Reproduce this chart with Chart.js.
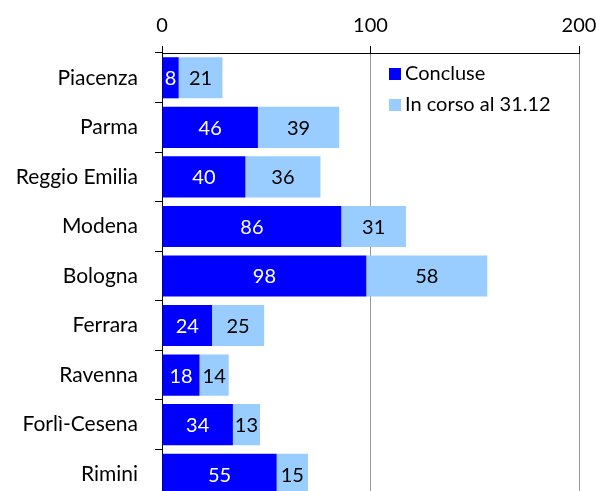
<!DOCTYPE html>
<html>
<head>
<meta charset="utf-8">
<script src="https://cdn.jsdelivr.net/npm/chart.js@4"></script>
<style>
  html, body { margin: 0; padding: 0; background: #fff; overflow: hidden; }
</style>
</head>
<body>
<canvas id="chart" width="596" height="499"></canvas>
<script>
// province
let province = ["Piacenza", "Parma", "Reggio Emilia", "Modena", "Bologna", "Ferrara", "Ravenna", "Forlì-Cesena", "Rimini"];
let concluse = [8, 46, 40, 86, 98, 24, 18, 34, 55];
let inCorso = [21, 39, 36, 31, 58, 25, 14, 13, 15];
let serieNomi = ["Concluse", "In corso al 31.12"];
let serieColori = ["#0000FF", "#99CCFF"];
let coloriEtichette = ["#FFFFFF", "#000000"];

const FONT = "Lato, 'Open Sans', sans-serif";

// valori dentro le barre
let etichettePlugin = {
  id: "etichette",
  afterDatasetsDraw(chart) {
    let ctx = chart.ctx;
    ctx.save();
    ctx.font = "20px " + FONT;
    ctx.textAlign = "center";
    ctx.textBaseline = "middle";
    chart.data.datasets.forEach((ds, i) => {
      chart.getDatasetMeta(i).data.forEach((bar, j) => {
        ctx.fillStyle = coloriEtichette[i];
        let x = (bar.x + bar.base) / 2;
        ctx.fillText(ds.data[j], x, bar.y + 1);
      });
    });
    ctx.restore();
  }
};

// legenda dentro l'area del grafico
let legendaPlugin = {
  id: "legenda",
  afterDraw(chart) {
    let ctx = chart.ctx;
    ctx.save();
    ctx.font = "20px " + FONT;
    ctx.textBaseline = "middle";
    let x0 = 389, y0 = 74;
    chart.data.datasets.forEach((ds, i) => {
      let y = y0 + i * 31;
      ctx.fillStyle = ds.backgroundColor;
      ctx.fillRect(x0, y - 6, 12, 12);
      ctx.fillStyle = "#000";
      ctx.fillText(ds.label, x0 + 16, y);
    });
    ctx.restore();
  }
};

let ctx = document.getElementById("chart").getContext("2d");
let chart = new Chart(ctx, {
  type: "bar",
  data: {
    labels: province,
    datasets: [
      { label: serieNomi[0], data: concluse, backgroundColor: serieColori[0] },
      { label: serieNomi[1], data: inCorso, backgroundColor: serieColori[1] }
    ]
  },
  options: {
    indexAxis: "y",
    responsive: false,
    animation: false,
    layout: { padding: { top: 0, right: 17, left: 0, bottom: 0 } },
    plugins: {
      legend: { display: false },
      tooltip: { enabled: false }
    },
    datasets: { bar: { barPercentage: 0.83, categoryPercentage: 1.0 } },
    scales: {
      x: {
        position: "top",
        stacked: true,
        min: 0,
        max: 200,
        afterFit: (s) => { s.height = 53; s.paddingLeft = 0; s.paddingRight = 0; },
        ticks: { stepSize: 100, color: "#000", font: { family: FONT, size: 20 }, padding: 8 },
        grid: { color: "#999", lineWidth: 1, tickLength: 7, tickColor: "#000" },
        border: { color: "#000", width: 1 }
      },
      y: {
        stacked: true,
        afterFit: (s) => { s.width = 162; s.paddingTop = 0; s.paddingBottom = 0; },
        ticks: { color: "#000", font: { family: FONT, size: 21 }, padding: 17 },
        grid: { offset: true, drawOnChartArea: false, tickLength: 7, color: "#000" },
        border: { color: "#000", width: 1 }
      }
    }
  },
  plugins: [etichettePlugin, legendaPlugin]
});
</script>
</body>
</html>
